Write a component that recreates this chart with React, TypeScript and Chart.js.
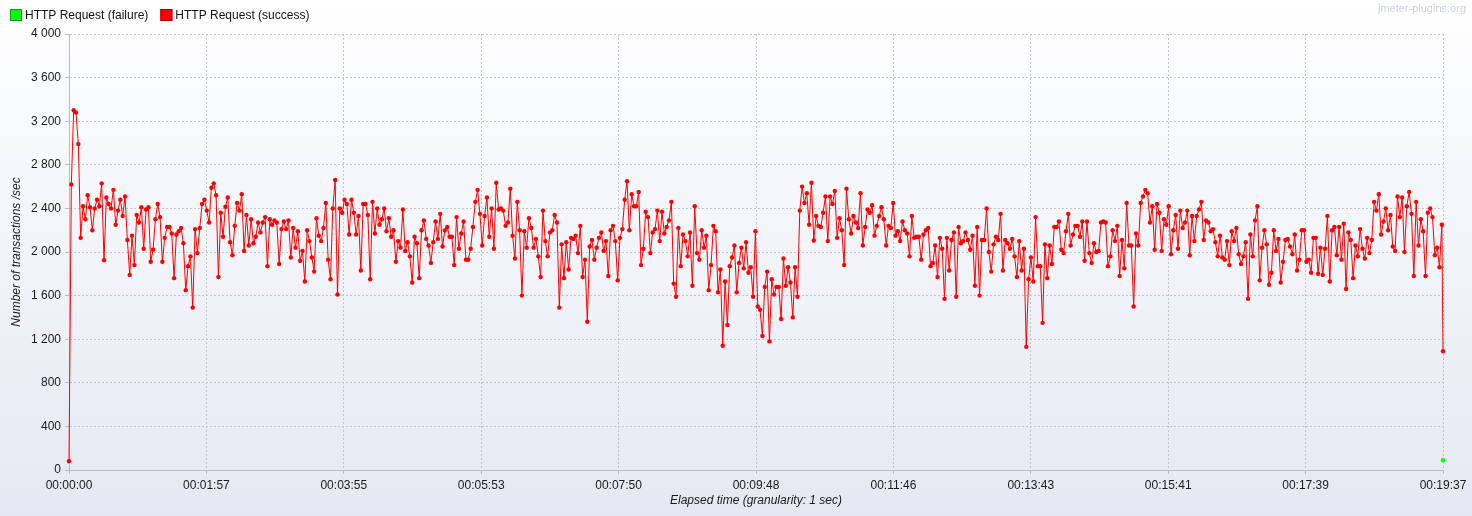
import React, { useEffect, useRef } from 'react';
import { Chart, registerables } from 'chart.js';

Chart.register(...registerables);

// ---- data -------------------------------------------------------------
const DURATION_SEC = 1177;
const SAMPLE_STEP_SEC = 2;
const SEGMENT_START_SEC = [0, 130, 260, 390, 520, 650, 780, 910, 1040];

const TPS_SEG_0 = [80, 2620, 3300, 3280, 2990, 2130, 2420, 2300, 2520, 2410, 2200, 2400, 2480, 2420, 2630, 1925, 2500, 2440, 2400, 2570, 2250, 2380, 2480, 2330, 2510, 2110, 1790, 2150, 1880, 2340, 2270, 2410, 2030, 2390, 2410, 1910, 2020, 2300, 2440, 2320, 1910, 2130, 2230, 2230, 2170, 1760, 2160, 2190, 2220, 2080, 1650, 1870, 1960, 1490, 2210, 1990, 2220, 2440, 2480, 2380, 2270, 2590, 2630, 2520, 1770];
const TPS_SEG_1 = [2360, 2140, 2415, 2500, 2090, 1970, 2240, 2450, 2380, 2530, 2010, 2340, 2060, 2300, 2080, 2140, 2270, 2180, 2270, 2320, 1870, 2300, 2250, 2290, 2270, 1890, 2210, 2280, 2210, 2290, 1950, 2220, 2040, 2190, 1920, 2010, 1730, 2200, 2100, 1950, 1820, 2310, 2150, 2100, 2220, 2450, 1930, 1750, 2400, 2660, 1610, 2400, 2360, 2480, 2440, 2160, 2480, 2360, 2160, 2330, 1830, 2440, 2440, 2340, 1750];
const TPS_SEG_2 = [2460, 2170, 2400, 2250, 2300, 2400, 2190, 2310, 2140, 2200, 1910, 2100, 2040, 2390, 2010, 2090, 1960, 1720, 2140, 2080, 1760, 2200, 2290, 2120, 2060, 1900, 2090, 2280, 2120, 2350, 2050, 2200, 2230, 2140, 2140, 1880, 2320, 2030, 2170, 2280, 1930, 1930, 2030, 2230, 2460, 2570, 2350, 2060, 2330, 2500, 2140, 2400, 2030, 2635, 2390, 2400, 2380, 2240, 2270, 2580, 2150, 1940, 2460, 2200, 1600];
const TPS_SEG_3 = [2190, 2040, 2310, 2220, 2040, 2120, 1960, 1770, 2380, 2100, 1960, 2180, 2200, 2340, 2270, 1490, 2070, 1760, 2090, 1840, 2130, 2120, 2150, 1990, 2240, 1770, 1930, 1360, 2050, 2110, 1930, 2040, 2130, 2180, 2010, 2100, 1780, 2200, 2240, 2100, 1740, 2130, 2210, 2480, 2650, 2200, 2530, 2420, 2420, 2550, 1880, 2030, 2370, 2320, 1990, 2180, 2210, 2380, 2100, 2370, 2170, 2230, 2290, 2460, 1710];
const TPS_SEG_4 = [1590, 2220, 1870, 2160, 2100, 1960, 2180, 1690, 2420, 1990, 1930, 2200, 2040, 2150, 1650, 1880, 2240, 2190, 1630, 1840, 1140, 1730, 1330, 1870, 1950, 2060, 1630, 1900, 2040, 1850, 2090, 1810, 1860, 1590, 2190, 1500, 1470, 1230, 1680, 1820, 1180, 1750, 1610, 1680, 1680, 1385, 1940, 1690, 1860, 1720, 1400, 1860, 1590, 2380, 2600, 2450, 2540, 2250, 2635, 2105, 2330, 2240, 2230, 2360, 2510];
const TPS_SEG_5 = [2100, 2510, 2440, 2560, 2130, 2310, 2200, 1880, 2580, 2300, 2170, 2330, 2270, 2220, 2540, 2060, 2230, 2390, 2360, 2430, 2150, 2240, 2330, 2410, 2300, 2060, 2240, 2220, 2450, 2150, 2190, 2100, 2280, 2200, 2170, 1960, 2330, 2130, 2140, 2140, 1930, 2160, 2200, 2220, 1870, 1900, 2060, 1770, 2130, 2030, 1570, 2130, 1830, 2110, 2180, 1590, 2230, 2080, 2100, 2180, 2110, 2020, 2150, 1690, 2230];
const TPS_SEG_6 = [1600, 2110, 2110, 2400, 2000, 1820, 2070, 2140, 2110, 2350, 1830, 2110, 2080, 2030, 2120, 1960, 1770, 2100, 1830, 2030, 1130, 1750, 1950, 1730, 2320, 1870, 1870, 1350, 2070, 1760, 2060, 1890, 2230, 2230, 2280, 2020, 1990, 2190, 2350, 2060, 2160, 2240, 2240, 2140, 2280, 1920, 2280, 1990, 1900, 2080, 2000, 2010, 2270, 2280, 2270, 1870, 1960, 2200, 2100, 2240, 1780, 2110, 1850, 2450, 2060];
const TPS_SEG_7 = [2060, 1500, 2170, 2060, 2450, 2510, 2570, 2540, 2270, 2420, 2020, 2440, 2360, 2010, 2300, 2250, 2420, 1980, 2200, 2340, 2030, 2380, 2220, 2270, 2380, 1970, 2330, 2100, 2330, 2390, 2460, 2110, 2290, 2270, 2190, 2210, 2090, 1960, 2150, 1950, 1930, 2100, 1880, 2190, 2100, 2220, 1980, 1890, 1960, 2090, 1570, 2160, 1960, 2290, 2420, 1740, 2040, 2200, 2070, 1700, 1810, 2200, 2010, 2120, 1720];
const TPS_SEG_8 = [1910, 2110, 2120, 2050, 1980, 2160, 1830, 1930, 2200, 2200, 1910, 1930, 1810, 2130, 2130, 1800, 2040, 1790, 2030, 2330, 1730, 2200, 2230, 1970, 2230, 1930, 2260, 1660, 2180, 2110, 1760, 2060, 1960, 2210, 2030, 1940, 2130, 1990, 2110, 2460, 2380, 2530, 2160, 2280, 2400, 2200, 2340, 2050, 2010, 2510, 2320, 2500, 2000, 2420, 2550, 2350, 1780, 2460, 2060, 2300, 2190, 1780, 2360, 2400, 2320, 1970, 2040, 1860, 2250];
const SUCCESS_FINAL_SEC = 1177;
const SUCCESS_FINAL_VALUE = 1090;

const FAILURE_TIMES_SEC = [1177];
const FAILURE_VALUES = [90];

const SERIES_LABELS = ['HTTP Request (failure)', 'HTTP Request (success)'];
const SERIES_COLORS = ['#00ff00', '#ff0000'];
const SERIES_BOX_BORDERS = ['#119911', '#aa0000'];

const X_TICK_LABELS = ['00:00:00', '00:01:57', '00:03:55', '00:05:53', '00:07:50', '00:09:48', '00:11:46', '00:13:43', '00:15:41', '00:17:39', '00:19:37'];
const Y_MAX = 4000;
const Y_STEP = 400;

const X_TITLE = 'Elapsed time (granularity: 1 sec)';
const Y_TITLE = 'Number of transactions /sec';
const WATERMARK = 'jmeter-plugins.org';

// ---- helpers ------------------------------------------------------------
const FONT = '"Liberation Sans", Arial, Helvetica, sans-serif';

function formatThousands(v: number): string {
  if (v < 1000) return String(v);
  const th = Math.floor(v / 1000);
  const rest = String(v % 1000).padStart(3, '0');
  return `${th} ${rest}`;
}

function buildSuccess() {
  const segs = [TPS_SEG_0, TPS_SEG_1, TPS_SEG_2, TPS_SEG_3, TPS_SEG_4, TPS_SEG_5, TPS_SEG_6, TPS_SEG_7, TPS_SEG_8];
  const pts: { x: number; y: number }[] = [];
  segs.forEach((seg, s) => {
    seg.forEach((v, i) => pts.push({ x: SEGMENT_START_SEC[s] + i * SAMPLE_STEP_SEC, y: v }));
  });
  pts.push({ x: SUCCESS_FINAL_SEC, y: SUCCESS_FINAL_VALUE });
  return pts;
}

const backgroundPlugin = {
  id: 'jmBackground',
  beforeDraw(chart: any) {
    const { ctx, width, height } = chart;
    const g = ctx.createLinearGradient(0, 0, 0, height);
    g.addColorStop(0, '#ffffff');
    g.addColorStop(1, '#e3e8f2');
    ctx.save();
    ctx.fillStyle = g;
    ctx.fillRect(0, 0, width, height);
    ctx.restore();
  },
};

const legendPlugin = {
  id: 'jmLegend',
  afterDraw(chart: any) {
    const { ctx, width } = chart;
    ctx.save();
    ctx.font = `12px ${FONT}`;
    ctx.textBaseline = 'middle';
    ctx.textAlign = 'left';
    let x = 10;
    const boxTop = 9;
    const box = 12;
    chart.data.datasets.forEach((ds: any, i: number) => {
      ctx.fillStyle = ds.backgroundColor;
      ctx.fillRect(x, boxTop, box, box);
      ctx.strokeStyle = SERIES_BOX_BORDERS[i];
      ctx.lineWidth = 1;
      ctx.strokeRect(x + 0.5, boxTop + 0.5, box - 1, box - 1);
      ctx.fillStyle = '#111111';
      ctx.fillText(ds.label, x + box + 3, boxTop + box / 2 + 1);
      x += box + 3 + ctx.measureText(ds.label).width + 12;
    });
    ctx.font = `11px ${FONT}`;
    ctx.fillStyle = '#cdd1da';
    ctx.textAlign = 'right';
    ctx.fillText(WATERMARK, width - 6, 9);
    ctx.restore();
  },
};

export default function App() {
  const canvasRef = useRef<HTMLCanvasElement | null>(null);

  useEffect(() => {
    if (!canvasRef.current) return;
    Chart.defaults.font.family = FONT;
    Chart.defaults.font.size = 12;
    Chart.defaults.color = '#1a1a1a';

    const failure = FAILURE_TIMES_SEC.map((t, i) => ({ x: t, y: FAILURE_VALUES[i] }));
    const success = buildSuccess();
    const gridColor = '#c3c5ca';
    const axisColor = '#b7bcc6';

    const chart = new Chart(canvasRef.current, {
      type: 'line',
      data: {
        datasets: [
          {
            label: SERIES_LABELS[0],
            data: failure,
            borderColor: SERIES_COLORS[0],
            backgroundColor: SERIES_COLORS[0],
            borderWidth: 1,
            pointRadius: 2.2,
            pointBorderWidth: 0,
            pointBackgroundColor: SERIES_COLORS[0],
            showLine: false,
            clip: false as any,
          },
          {
            label: SERIES_LABELS[1],
            data: success,
            borderColor: SERIES_COLORS[1],
            backgroundColor: SERIES_COLORS[1],
            borderWidth: 1,
            pointRadius: 2.2,
            pointBorderWidth: 0,
            pointBackgroundColor: SERIES_COLORS[1],
            tension: 0,
            clip: false as any,
          },
        ],
      },
      options: {
        animation: false,
        responsive: false,
        maintainAspectRatio: false,
        parsing: false as any,
        normalized: true,
        layout: { padding: { top: 34, right: 29, left: 0, bottom: 0 } },
        plugins: {
          legend: { display: false },
          tooltip: { enabled: false },
          title: { display: false },
        },
        scales: {
          x: {
            type: 'linear',
            min: 0,
            max: DURATION_SEC,
            afterBuildTicks: (scale: any) => {
              const n = X_TICK_LABELS.length - 1;
              scale.ticks = X_TICK_LABELS.map((_, i) => ({ value: (i * DURATION_SEC) / n }));
            },
            afterFit: (scale: any) => {
              scale.height = 46;
            },
            ticks: {
              autoSkip: false,
              maxRotation: 0,
              padding: 4,
              color: '#1a1a1a',
              font: { size: 12 },
              callback: (_v: any, index: number) => X_TICK_LABELS[index],
            },
            grid: {
              color: gridColor,
              lineWidth: 1,
              drawTicks: true,
              tickLength: 4,
              tickColor: axisColor,
              tickBorderDash: [],
            },
            border: { display: true, color: axisColor, width: 1, dash: [2, 2] },
            title: {
              display: true,
              text: X_TITLE,
              font: { size: 12, style: 'italic' },
              color: '#1a1a1a',
              padding: { top: 0, bottom: 8 },
            },
          },
          y: {
            type: 'linear',
            min: 0,
            max: Y_MAX,
            afterFit: (scale: any) => {
              scale.width = 69;
            },
            ticks: {
              stepSize: Y_STEP,
              padding: 4,
              color: '#1a1a1a',
              font: { size: 12 },
              callback: (v: any) => formatThousands(Number(v)),
            },
            grid: {
              color: gridColor,
              lineWidth: 1,
              drawTicks: true,
              tickLength: 4,
              tickColor: axisColor,
              tickBorderDash: [],
            },
            border: { display: true, color: axisColor, width: 1, dash: [2, 2] },
            title: {
              display: true,
              text: Y_TITLE,
              font: { size: 12, style: 'italic' },
              color: '#1a1a1a',
              padding: { top: 9, bottom: 0 },
            },
          },
        },
      },
      plugins: [backgroundPlugin, legendPlugin],
    } as any);

    return () => chart.destroy();
  }, []);

  return (
    <div style={{ position: 'fixed', left: 0, top: 0, width: 1472, height: 516 }}>
      <canvas ref={canvasRef} width={1472} height={516} style={{ display: 'block', width: 1472, height: 516 }} />
    </div>
  );
}
